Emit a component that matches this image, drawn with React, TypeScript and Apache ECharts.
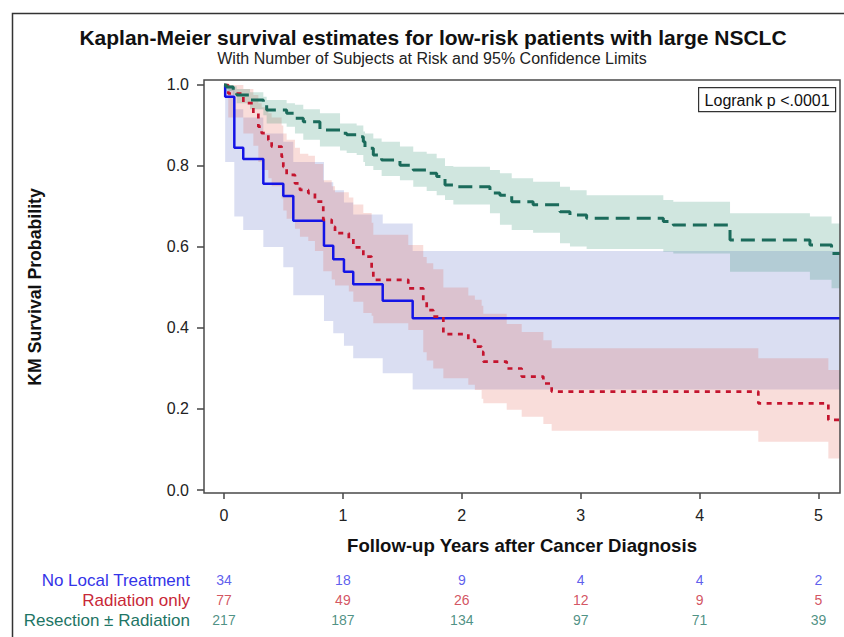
import React, { useEffect, useRef } from "react";
import * as echarts from "echarts";

const TITLE = "Kaplan-Meier survival estimates for low-risk patients with large NSCLC";
const SUBTITLE = "With Number of Subjects at Risk and 95% Confidence Limits";
const X_NAME = "Follow-up Years after Cancer Diagnosis";
const Y_NAME = "KM Survival Probability";
const LOGRANK = "Logrank p <.0001";
const GROUPS = ["No Local Treatment", "Radiation only", "Resection ± Radiation"];
const X_TICKS = [0, 1, 2, 3, 4, 5];
const Y_TICKS = [0, 0.2, 0.4, 0.6, 0.8, 1.0];
const END_TIME = 5.18;

// No Local Treatment
const blueT = [0, 0.01, 0.087, 0.162, 0.331, 0.499, 0.583, 0.841, 0.919, 1.009, 1.087, 1.335, 1.587];
const blueS = [1.0, 0.971, 0.845, 0.817, 0.756, 0.726, 0.665, 0.603, 0.57, 0.539, 0.508, 0.467, 0.424];
const blueLo = [1.0, 0.81, 0.675, 0.642, 0.6, 0.55, 0.481, 0.417, 0.387, 0.356, 0.325, 0.288, 0.248];
const blueHi = [1.0, 0.996, 0.94, 0.92, 0.88, 0.86, 0.81, 0.76, 0.74, 0.71, 0.68, 0.658, 0.59];

// Radiation only
const redT = [0, 0.036, 0.163, 0.247, 0.289, 0.317, 0.373, 0.401, 0.485, 0.499, 0.527, 0.597, 0.639, 0.709, 0.765, 0.835, 0.906, 0.934, 1.05, 1.088, 1.172, 1.242, 1.256, 1.55, 1.676, 1.705, 1.76, 1.845, 2.055, 2.11, 2.167, 2.181, 2.378, 2.504, 2.686, 2.756, 4.494, 5.083];
const redS = [1.0, 0.979, 0.955, 0.93, 0.897, 0.881, 0.864, 0.848, 0.823, 0.798, 0.778, 0.757, 0.741, 0.733, 0.712, 0.667, 0.65, 0.634, 0.621, 0.599, 0.576, 0.547, 0.519, 0.498, 0.465, 0.444, 0.428, 0.385, 0.37, 0.354, 0.341, 0.317, 0.3, 0.28, 0.263, 0.243, 0.214, 0.173];
const redLo = [1.0, 0.92, 0.88, 0.85, 0.81, 0.79, 0.77, 0.75, 0.72, 0.69, 0.67, 0.645, 0.625, 0.615, 0.59, 0.54, 0.52, 0.505, 0.49, 0.465, 0.437, 0.43, 0.412, 0.395, 0.34, 0.32, 0.3, 0.276, 0.26, 0.247, 0.225, 0.214, 0.198, 0.181, 0.163, 0.146, 0.119, 0.078];
const redHi = [1.0, 1.0, 0.99, 0.975, 0.955, 0.945, 0.93, 0.92, 0.9, 0.88, 0.865, 0.845, 0.83, 0.825, 0.805, 0.765, 0.75, 0.735, 0.722, 0.705, 0.684, 0.66, 0.63, 0.605, 0.575, 0.56, 0.545, 0.5, 0.48, 0.47, 0.455, 0.435, 0.41, 0.39, 0.37, 0.35, 0.325, 0.296];

// Resection ± Radiation
const greenT = [0, 0.02, 0.078, 0.107, 0.219, 0.331, 0.359, 0.527, 0.597, 0.667, 0.807, 0.976, 1.032, 1.116, 1.172, 1.186, 1.256, 1.326, 1.48, 1.592, 1.705, 1.789, 1.859, 1.929, 2.237, 2.321, 2.42, 2.6, 2.826, 2.91, 3.05, 3.695, 3.779, 4.256, 4.928, 5.11];
const greenS = [1.0, 0.995, 0.988, 0.975, 0.963, 0.951, 0.938, 0.93, 0.918, 0.909, 0.889, 0.881, 0.877, 0.872, 0.86, 0.844, 0.827, 0.815, 0.802, 0.79, 0.782, 0.774, 0.753, 0.749, 0.733, 0.728, 0.712, 0.704, 0.687, 0.679, 0.671, 0.663, 0.654, 0.617, 0.605, 0.584];
const greenLo = [1.0, 0.985, 0.975, 0.955, 0.94, 0.925, 0.905, 0.897, 0.88, 0.865, 0.848, 0.838, 0.832, 0.827, 0.81, 0.8, 0.79, 0.775, 0.765, 0.749, 0.738, 0.728, 0.716, 0.705, 0.683, 0.655, 0.642, 0.635, 0.609, 0.601, 0.595, 0.588, 0.584, 0.539, 0.519, 0.498];
const greenHi = [1.0, 1.0, 0.997, 0.99, 0.982, 0.971, 0.963, 0.955, 0.951, 0.94, 0.93, 0.905, 0.905, 0.9, 0.885, 0.88, 0.868, 0.86, 0.848, 0.835, 0.83, 0.819, 0.8, 0.798, 0.79, 0.782, 0.77, 0.761, 0.749, 0.74, 0.728, 0.716, 0.712, 0.683, 0.675, 0.658];

// Number at risk
const atRiskTimes = [0, 1, 2, 3, 4, 5];
const atRiskNoLocal = [34, 18, 9, 4, 4, 2];
const atRiskRadiation = [77, 49, 26, 12, 9, 5];
const atRiskResection = [217, 187, 134, 97, 71, 39];

const LINE_COLORS = ["#1414e6", "#c4142e", "#1b6b5b"];
const BAND_COLORS = ["rgba(70,90,190,0.2)", "rgba(225,85,70,0.2)", "rgba(40,140,110,0.22)"];
const TEXT_COLORS = ["#3434e8", "#c82838", "#1e7565"];
const FONT = "'Liberation Sans', Arial, sans-serif";

function stepPts(t: number[], v: number[]) {
  const pts = t.map((ti, i) => [ti, v[i]]);
  pts.push([END_TIME, v[v.length - 1]]);
  return pts;
}

function bandSeries(name: string, t: number[], lo: number[], hi: number[], color: string) {
  const items = t.map((ti, i) => [ti, i + 1 < t.length ? t[i + 1] : END_TIME, lo[i], hi[i]]);
  return {
    type: "custom", name: name + " 95% CL", silent: true, z: 1,
    data: items,
    encode: { x: [0, 1], y: [2, 3] },
    renderItem: (params: any, api: any) => {
      if (params.dataIndex !== 0) return null;
      const top: number[][] = [];
      const bottom: number[][] = [];
      items.forEach((it) => {
        top.push(api.coord([it[0], it[3]]), api.coord([it[1], it[3]]));
        bottom.push(api.coord([it[0], it[2]]), api.coord([it[1], it[2]]));
      });
      const pts = top.concat(bottom.reverse());
      return { type: "polygon", shape: { points: pts }, style: { fill: color } };
    },
  };
}

export default function App() {
  const ref = useRef<HTMLDivElement>(null);
  useEffect(() => {
    if (!ref.current) return;
    const chart = echarts.init(ref.current, undefined, { renderer: "svg" });
    const groupsBottomUp = [GROUPS[2], GROUPS[1], GROUPS[0]];
    const riskData = [atRiskNoLocal, atRiskRadiation, atRiskResection];
    const option: any = {
      animation: false,
      backgroundColor: "#ffffff",
      textStyle: { fontFamily: FONT },
      grid: [
        { left: 204, top: 80, width: 636, height: 413, show: true, borderColor: "#4a4a4a", borderWidth: 1.5, backgroundColor: "transparent", z: 10 },
        { left: 204, top: 570, width: 636, height: 60, show: false },
      ],
      xAxis: [
        {
          type: "value", gridIndex: 0, min: -0.168, max: 5.181,
          name: X_NAME, nameLocation: "middle", nameGap: 43,
          nameTextStyle: { fontFamily: FONT, fontWeight: "bold", fontSize: 18.6, color: "#111" },
          axisLine: { show: false, onZero: false },
          axisTick: { show: true, customValues: X_TICKS, length: 6, lineStyle: { color: "#444", width: 1.5 } },
          axisLabel: { customValues: X_TICKS, margin: 14, fontSize: 16, color: "#222", fontFamily: FONT, formatter: (v: number) => String(v) },
          splitLine: { show: false },
        },
        { type: "value", gridIndex: 1, min: -0.168, max: 5.181, show: false },
      ],
      yAxis: [
        {
          type: "value", gridIndex: 0, min: -0.0074, max: 1.0123,
          axisLine: { show: false, onZero: false },
          axisTick: { show: true, customValues: Y_TICKS, length: 7, lineStyle: { color: "#444", width: 1.5 } },
          axisLabel: { customValues: Y_TICKS, margin: 15, fontSize: 16, color: "#222", fontFamily: FONT, formatter: (v: number) => v.toFixed(1) },
          splitLine: { show: false },
        },
        {
          type: "category", gridIndex: 1, data: groupsBottomUp,
          axisLine: { show: false }, axisTick: { show: false },
          axisLabel: {
            interval: 0, margin: 14, fontSize: 17, fontFamily: FONT,
            color: (v: string) => TEXT_COLORS[GROUPS.indexOf(v)],
          },
        },
      ],
      graphic: [
        { type: "rect", left: 10, top: 11, shape: { width: 860, height: 660 }, style: { fill: "none", stroke: "#333", lineWidth: 1.5 }, z: 100 },
        { type: "text", x: 433, y: 37, style: { text: TITLE, font: "bold 21px " + FONT, fill: "#111", textAlign: "center", textVerticalAlign: "middle" }, z: 100 },
        { type: "text", x: 432, y: 58, style: { text: SUBTITLE, font: "16px " + FONT, fill: "#222", textAlign: "center", textVerticalAlign: "middle" }, z: 100 },
        { type: "text", x: 35, y: 287, rotation: Math.PI / 2, style: { text: Y_NAME, font: "bold 17.7px " + FONT, fill: "#111", textAlign: "center", textVerticalAlign: "middle" }, z: 100 },
        {
          type: "group", left: 698, top: 87, z: 100,
          children: [
            { type: "rect", shape: { x: 0, y: 0, width: 137, height: 24 }, style: { fill: "#fff", stroke: "#333", lineWidth: 1.2 } },
            { type: "text", x: 68.5, y: 12.5, style: { text: LOGRANK, font: "16px " + FONT, fill: "#111", textAlign: "center", textVerticalAlign: "middle" } },
          ],
        },
      ],
      series: [
        bandSeries("blue", blueT, blueLo, blueHi, BAND_COLORS[0]),
        bandSeries("red", redT, redLo, redHi, BAND_COLORS[1]),
        bandSeries("green", greenT, greenLo, greenHi, BAND_COLORS[2]),
        {
          type: "line", name: GROUPS[0], step: "end", data: stepPts(blueT, blueS), symbol: "none", silent: true, z: 5,
          lineStyle: { color: LINE_COLORS[0], width: 2.5, type: "solid" },
        },
        {
          type: "line", name: GROUPS[1], step: "end", data: stepPts(redT, redS), symbol: "none", silent: true, z: 5,
          lineStyle: { color: LINE_COLORS[1], width: 2.7, type: [5, 5.5] },
        },
        {
          type: "line", name: GROUPS[2], step: "end", data: stepPts(greenT, greenS), symbol: "none", silent: true, z: 5,
          lineStyle: { color: LINE_COLORS[2], width: 3, type: [14, 7] },
        },
        ...riskData.map((arr, gi) => ({
          type: "scatter", xAxisIndex: 1, yAxisIndex: 1, silent: true,
          symbolSize: 1, itemStyle: { color: "rgba(0,0,0,0)" },
          data: arr.map((n, i) => [atRiskTimes[i], GROUPS[gi], n]),
          label: {
            show: true, position: "inside", formatter: (p: any) => String(p.value[2]),
            color: TEXT_COLORS[gi], fontSize: 14, fontFamily: FONT,
          },
        })),
      ],
    };
    chart.setOption(option);
    return () => chart.dispose();
  }, []);
  return <div ref={ref} style={{ position: "absolute", left: 0, top: 0, width: 844, height: 637 }} />;
}
